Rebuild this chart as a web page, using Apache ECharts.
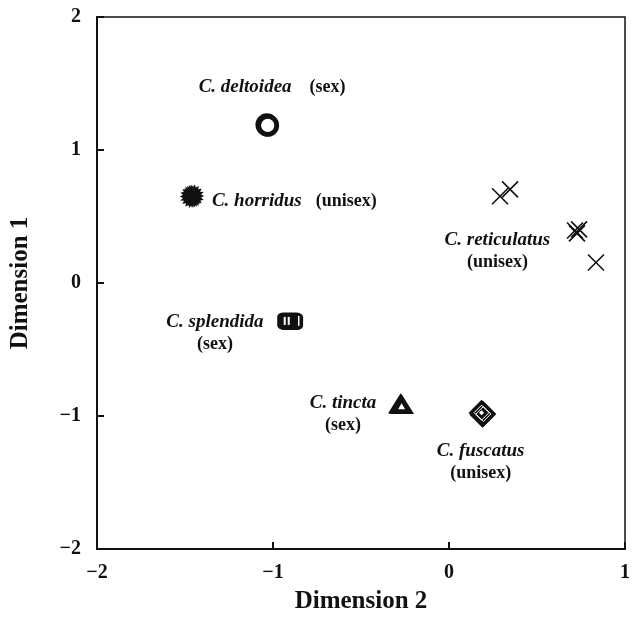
<!DOCTYPE html>
<html><head><meta charset="utf-8">
<script src="https://cdn.jsdelivr.net/npm/echarts@6/dist/echarts.min.js"></script>
<style>html,body{margin:0;padding:0;background:#fff}#c{width:635px;height:635px}</style>
</head><body><div id="c"></div>
<script>
// ---- data (Dimension 2 = x, Dimension 1 = y) ----
const xTicks = [-2, -1, 0, 1];
const yTicks = [-2, -1, 0, 1, 2];
const deltoidea = [[-1.035, 1.19], [-1.03, 1.185]];
const horridus = [[-1.465, 0.65], [-1.455, 0.655]];
const splendida = [[-0.905, -0.285], [-0.9, -0.29]];
const tincta = [[-0.275, -0.905], [-0.27, -0.91]];
const fuscatus = [[0.185, -0.975], [0.195, -0.985], [0.19, -0.99]];
const reticulatus = [[0.29, 0.652], [0.347, 0.704], [0.716, 0.395], [0.727, 0.373], [0.739, 0.403], [0.835, 0.154]];
const labelNames = ['C. deltoidea', 'C. horridus', 'C. reticulatus', 'C. splendida', 'C. tincta', 'C. fuscatus'];
const labelTags = ['(sex)', '(unisex)', '(unisex)', '(sex)', '(sex)', '(unisex)'];
const labelPos = [[-1.005, 1.47], [-1.347, 0.614], [0.275, 0.237], [-1.33, -0.38], [-0.602, -0.985], [0.18, -1.35]];
const labelLayout = ['inline', 'inlineLeft', 'stack', 'stack', 'stack', 'stack'];

// starburst path
function starPath(n, ro, ri) {
  let d = '';
  for (let i = 0; i < 2 * n; i++) {
    const r = i % 2 === 0 ? ro : ri;
    const a = Math.PI * i / n;
    const x = 50 + r * Math.cos(a), y = 50 + r * Math.sin(a);
    d += (i === 0 ? 'M' : 'L') + x.toFixed(2) + ',' + y.toFixed(2);
  }
  return 'path://' + d + 'Z';
}
const SERIF = '"Liberation Serif", "DejaVu Serif", serif';
const fmt = v => String(v).replace('-', '\u2212');

const labelData = labelPos.map((p, i) => {
  const mode = labelLayout[i];
  let text, align = 'center';
  if (mode === 'stack') text = '{i|' + labelNames[i] + '}\n{n|' + labelTags[i] + '}';
  else if (mode === 'inlineLeft') { text = '{i|' + labelNames[i] + '}{h|}{n|' + labelTags[i] + '}'; align = 'left'; }
  else text = '{i|' + labelNames[i] + '}{g|}{n|' + labelTags[i] + '}';
  return { value: p, label: { formatter: text, align: align } };
});

const chart = echarts.init(document.getElementById('c'), null, { renderer: 'canvas' });
const black = '#111111';
const solid = (c) => ({ color: c, opacity: 1 });
chart.setOption({
  animation: false,
  grid: { left: 97, right: 10, top: 17, bottom: 86, show: true, borderColor: black, borderWidth: 1.5 },
  xAxis: {
    type: 'value', min: -2, max: 1, interval: 1,
    name: 'Dimension 2', nameLocation: 'middle', nameGap: 40,
    nameTextStyle: { fontFamily: SERIF, fontWeight: 'bold', fontSize: 25, color: black },
    axisLine: { show: true, onZero: false, lineStyle: { color: black, width: 2 } },
    axisTick: { show: true, inside: true, length: 7, lineStyle: { color: black, width: 2 } },
    axisLabel: { fontFamily: SERIF, fontWeight: 'bold', fontSize: 20, color: black, margin: 14,
      formatter: v => xTicks.includes(v) ? fmt(v) : '' },
    splitLine: { show: false }
  },
  yAxis: {
    type: 'value', min: -2, max: 2, interval: 1,
    name: 'Dimension 1', nameLocation: 'middle', nameGap: 64, nameRotate: 90,
    nameTextStyle: { fontFamily: SERIF, fontWeight: 'bold', fontSize: 25, color: black },
    axisLine: { show: true, onZero: false, lineStyle: { color: black, width: 2 } },
    axisTick: { show: true, inside: true, length: 7, lineStyle: { color: black, width: 2 } },
    axisLabel: { fontFamily: SERIF, fontWeight: 'bold', fontSize: 20, color: black, margin: 16,
      formatter: v => yTicks.includes(v) ? fmt(v) : '' },
    splitLine: { show: false }
  },
  series: [
    // C. deltoidea: thick open circle
    { type: 'scatter', data: deltoidea, symbol: 'circle', symbolSize: 18,
      itemStyle: { color: '#fff', borderColor: black, borderWidth: 4.8, opacity: 1 } },
    // C. horridus: starburst
    { type: 'scatter', data: horridus, symbol: starPath(18, 50, 36), symbolSize: 23, itemStyle: solid(black) },
    // C. splendida: filled squares
    { type: 'scatter', data: splendida, symbol: 'roundRect', symbolSize: [25, 17], itemStyle: solid(black) },
    { type: 'scatter', data: splendida.slice(0, 1), symbol: 'rect', symbolSize: [2, 8], symbolOffset: [-5, 0], itemStyle: solid('#fff') },
    { type: 'scatter', data: splendida.slice(0, 1), symbol: 'rect', symbolSize: [2, 8], symbolOffset: [-1, 0], itemStyle: solid('#fff') },
    { type: 'scatter', data: splendida.slice(0, 1), symbol: 'rect', symbolSize: [1.5, 10], symbolOffset: [9, 0], itemStyle: solid('#fff') },
    // C. tincta: filled triangles with small white core
    { type: 'scatter', data: tincta, symbol: 'triangle', symbolSize: [25, 20], itemStyle: solid(black) },
    { type: 'scatter', data: tincta.slice(0, 1), symbol: 'triangle', symbolSize: [7, 6], symbolOffset: [1, 3], itemStyle: solid('#fff') },
    // C. fuscatus: overlapping diamonds
    { type: 'scatter', data: fuscatus, symbol: 'diamond', symbolSize: 26, itemStyle: solid(black) },
    { type: 'scatter', data: fuscatus.slice(0, 2), symbol: 'diamond', symbolSize: 15,
      itemStyle: { color: 'rgba(0,0,0,0)', borderColor: '#fff', borderWidth: 1, opacity: 1 } },
    { type: 'scatter', data: fuscatus.slice(0, 1), symbol: 'diamond', symbolSize: 5, itemStyle: solid('#fff') },
    // C. reticulatus: crosses
    { type: 'scatter', data: reticulatus, symbol: 'path://M0,0L10,10M10,0L0,10', symbolSize: 16,
      itemStyle: { color: 'none', borderColor: black, borderWidth: 1.6, opacity: 1 } },
    // species labels
    { type: 'scatter', data: labelData, symbolSize: 0, silent: true,
      itemStyle: { opacity: 1 },
      label: { show: true, position: 'inside', color: black, lineHeight: 22,
        rich: {
          i: { fontFamily: SERIF, fontStyle: 'italic', fontWeight: 'bold', fontSize: 19, color: black, lineHeight: 22 },
          n: { fontFamily: SERIF, fontWeight: 'bold', fontSize: 18, color: black, lineHeight: 22 },
          g: { width: 18 },
          h: { width: 14 }
        } } }
  ]
});
</script></body></html>
